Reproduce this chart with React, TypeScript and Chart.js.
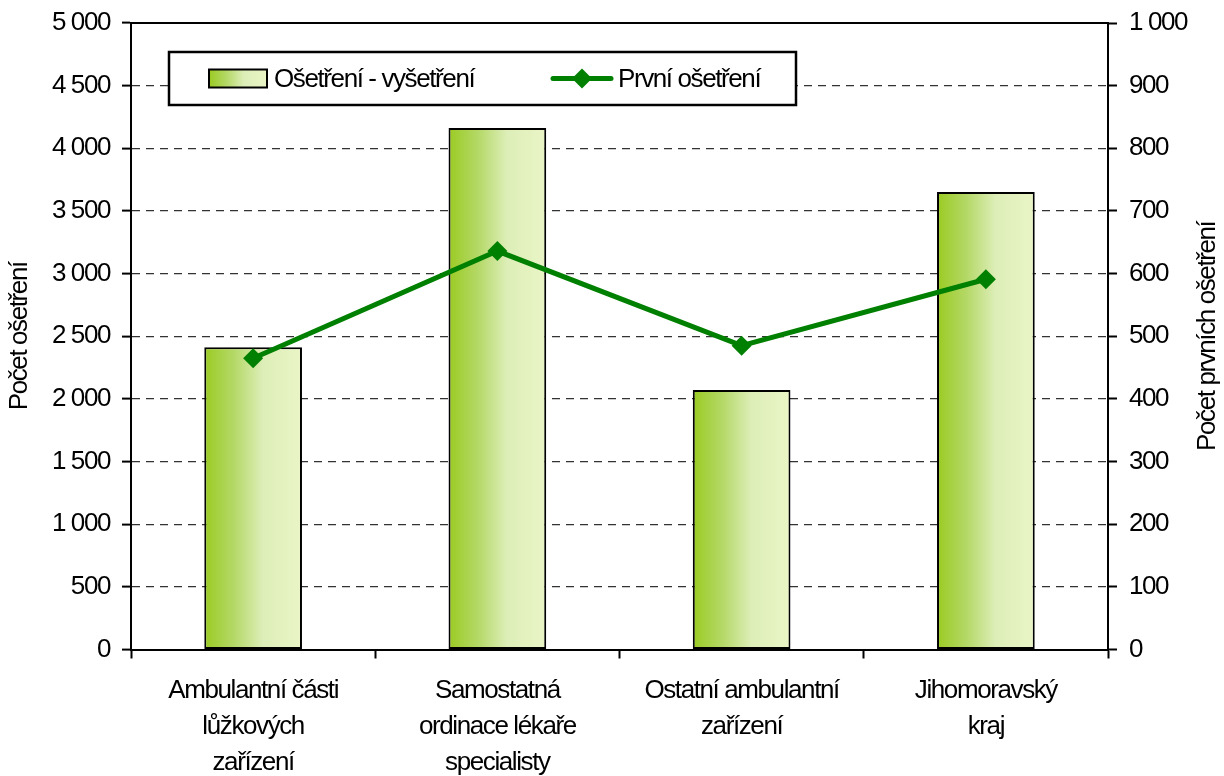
import React, { useEffect, useRef } from "react";
import { Chart, registerables } from "chart.js";

Chart.register(...registerables);

const categories: string[][] = [
  ["Ambulantní části", "lůžkových", "zařízení"],
  ["Samostatná", "ordinace lékaře", "specialisty"],
  ["Ostatní ambulantní", "zařízení"],
  ["Jihomoravský", "kraj"],
];
const barLabel = "Ošetření - vyšetření";
const lineLabel = "První ošetření";
const barValues = [2412, 4162, 2071, 3651];
const lineValues = [465, 636, 485, 591];
const leftTitle = "Počet ošetření";
const rightTitle = "Počet prvních ošetření";

const FONT = '"Liberation Sans", Arial, sans-serif';
const FS = 26;
const SPACING = "-1.4px";
const GREEN = "#008000";

function fmt(v: number) {
  return String(v).replace(/\B(?=(\d{3})+(?!\d))/g, " ");
}

function makeGradient(ctx: CanvasRenderingContext2D, x0: number, x1: number) {
  const g = ctx.createLinearGradient(x0, 0, x1, 0);
  g.addColorStop(0, "#9acb22");
  g.addColorStop(0.3, "#b4d866");
  g.addColorStop(0.6, "#ddeeb8");
  g.addColorStop(1, "#eaf5c6");
  return g;
}

const spacing = {
  id: "spacing",
  beforeLayout(chart: any) {
    (chart.ctx as any).letterSpacing = SPACING;
  },
  beforeDraw(chart: any) {
    (chart.ctx as any).letterSpacing = SPACING;
  },
};

const decor = {
  id: "decor",
  afterDraw(chart: any) {
    const { ctx, chartArea } = chart;
    ctx.save();
    (ctx as any).letterSpacing = SPACING;
    ctx.strokeStyle = "#000";
    ctx.lineWidth = 2;
    ctx.beginPath();
    ctx.moveTo(chartArea.left, chartArea.top);
    ctx.lineTo(chartArea.right, chartArea.top);
    ctx.stroke();

    const bx = 169, by = 52, bw = 627, bh = 53;
    ctx.fillStyle = "#fff";
    ctx.fillRect(bx, by, bw, bh);
    ctx.lineWidth = 2.5;
    ctx.strokeStyle = "#000";
    ctx.strokeRect(bx, by, bw, bh);
    const cy = by + bh / 2;
    ctx.fillStyle = makeGradient(ctx, 209, 267);
    ctx.fillRect(209, cy - 9, 58, 18);
    ctx.lineWidth = 2;
    ctx.strokeRect(209, cy - 9, 58, 18);
    ctx.font = `${FS}px ${FONT}`;
    ctx.fillStyle = "#000";
    ctx.textBaseline = "middle";
    ctx.textAlign = "left";
    ctx.fillText(barLabel, 274, cy + 1);
    ctx.strokeStyle = GREEN;
    ctx.lineWidth = 5;
    ctx.lineCap = "round";
    ctx.beginPath();
    ctx.moveTo(553, cy);
    ctx.lineTo(611, cy);
    ctx.stroke();
    ctx.fillStyle = GREEN;
    ctx.beginPath();
    ctx.moveTo(582, cy - 10);
    ctx.lineTo(592, cy);
    ctx.lineTo(582, cy + 10);
    ctx.lineTo(572, cy);
    ctx.closePath();
    ctx.fill();
    ctx.fillStyle = "#000";
    ctx.fillText(lineLabel, 618, cy + 1);

    ctx.textAlign = "center";
    ctx.textBaseline = "middle";
    const midY = (chartArea.top + chartArea.bottom) / 2;
    ctx.save();
    ctx.translate(20, midY);
    ctx.rotate(-Math.PI / 2);
    ctx.fillText(leftTitle, 0, 0);
    ctx.restore();
    ctx.save();
    ctx.translate(1208, midY);
    ctx.rotate(-Math.PI / 2);
    ctx.fillText(rightTitle, 0, 0);
    ctx.restore();
    ctx.restore();
  },
};

export default function App() {
  const ref = useRef<HTMLCanvasElement>(null);
  useEffect(() => {
    document.body.style.margin = "0";
    Chart.defaults.font.family = FONT;
    Chart.defaults.font.size = FS;
    Chart.defaults.color = "#000";
    const noPad = (s: any) => {
      s.paddingTop = 0;
      s.paddingBottom = 0;
    };
    const chart = new Chart(ref.current as HTMLCanvasElement, {
      type: "bar",
      data: {
        labels: categories as any,
        datasets: [
          {
            type: "line",
            label: lineLabel,
            data: lineValues,
            yAxisID: "y1",
            borderColor: GREEN,
            backgroundColor: GREEN,
            borderWidth: 5,
            pointStyle: "rectRot",
            pointRadius: 10,
            pointBorderWidth: 0,
            pointBackgroundColor: GREEN,
            tension: 0,
            order: 0,
          } as any,
          {
            type: "bar",
            label: barLabel,
            data: barValues,
            yAxisID: "y",
            borderColor: "#000",
            borderWidth: 2,
            borderSkipped: false,
            categoryPercentage: 1,
            barPercentage: 0.4,
            order: 1,
            backgroundColor: (c: any) => {
              const chart = c.chart;
              const xs = chart.scales && chart.scales.x;
              if (!xs || c.dataIndex === undefined || !(xs.width > 0)) return "#b4d866";
              const center = xs.getPixelForValue(c.dataIndex);
              const half = (xs.width / categories.length) * 0.4 / 2;
              if (!Number.isFinite(center) || !Number.isFinite(half)) return "#b4d866";
              return makeGradient(chart.ctx, center - half, center + half);
            },
          } as any,
        ],
      },
      options: {
        animation: false,
        responsive: true,
        maintainAspectRatio: false,
        layout: { padding: { top: 23, left: 0, right: 0, bottom: 0 } },
        plugins: { legend: { display: false }, tooltip: { enabled: false } },
        scales: {
          x: {
            offset: true,
            grid: {
              offset: true,
              drawOnChartArea: false,
              drawTicks: true,
              tickLength: 9,
              tickColor: "#000",
              tickWidth: 2,
            },
            border: { color: "#000", width: 2 },
            ticks: { padding: 14, font: { size: FS, lineHeight: 36 / FS }, maxRotation: 0, autoSkip: false },
            afterFit: (s: any) => {
              s.height = 126.5;
            },
          } as any,
          y: {
            position: "left",
            min: 0,
            max: 5000,
            ticks: { stepSize: 500, padding: 12, callback: (v: any) => fmt(v), font: { size: FS } },
            grid: {
              color: "#333",
              lineWidth: 1.2,
              drawTicks: true,
              tickLength: 9,
              tickColor: "#000",
              tickWidth: 2,
              tickBorderDash: [],
            },
            border: { color: "#000", width: 2, dash: [8, 6] },
            afterFit: (s: any) => {
              s.width = 131;
              noPad(s);
            },
          } as any,
          y1: {
            position: "right",
            min: 0,
            max: 1000,
            ticks: { stepSize: 100, padding: 12, callback: (v: any) => fmt(v), font: { size: FS } },
            grid: {
              drawOnChartArea: false,
              drawTicks: true,
              tickLength: 9,
              tickColor: "#000",
              tickWidth: 2,
            },
            border: { color: "#000", width: 2 },
            afterFit: (s: any) => {
              s.width = 116;
              noPad(s);
            },
          } as any,
        },
      },
      plugins: [spacing, decor],
    });
    return () => chart.destroy();
  }, []);
  return (
    <div style={{ position: "absolute", left: 0, top: 0, width: 1224, height: 776 }}>
      <canvas ref={ref} />
    </div>
  );
}
